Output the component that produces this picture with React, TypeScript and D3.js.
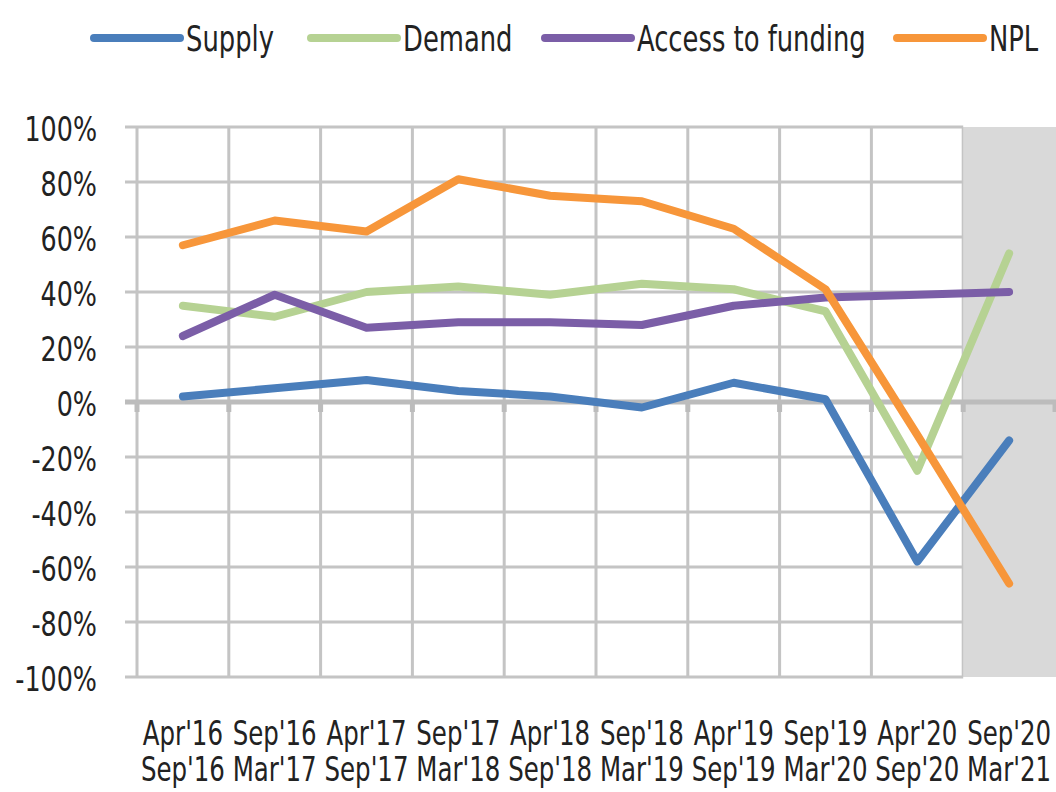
import * as React from 'react';
import { scaleBand, scaleLinear, line, range } from 'd3';

const periods = [
    ["Apr'16", "Sep'16"],
    ["Sep'16", "Mar'17"],
    ["Apr'17", "Sep'17"],
    ["Sep'17", "Mar'18"],
    ["Apr'18", "Sep'18"],
    ["Sep'18", "Mar'19"],
    ["Apr'19", "Sep'19"],
    ["Sep'19", "Mar'20"],
    ["Apr'20", "Sep'20"],
    ["Sep'20", "Mar'21"],
];

const supply = [0.02, 0.05, 0.08, 0.04, 0.02, -0.02, 0.07, 0.01, -0.58, -0.14];
const demand = [0.35, 0.31, 0.40, 0.42, 0.39, 0.43, 0.41, 0.33, -0.25, 0.54];
const access = [0.24, 0.39, 0.27, 0.29, 0.29, 0.28, 0.35, 0.38, 0.39, 0.40];
const npl = [0.57, 0.66, 0.62, 0.81, 0.75, 0.73, 0.63, 0.41, -0.12, -0.66];

const yTicks = [1, 0.8, 0.6, 0.4, 0.2, 0, -0.2, -0.4, -0.6, -0.8, -1];

const series = [
    { name: "Supply", values: supply, color: "#4a7ebb" },
    { name: "Demand", values: demand, color: "#b6d293" },
    { name: "Access to funding", values: access, color: "#7b5ea7" },
    { name: "NPL", values: npl, color: "#f7963a" },
];

// legend layout (swatch start x for each entry)
const legendX = [94, 311, 545, 897];

const FONT = "'DejaVu Sans', sans-serif";
const W = 1056, H = 792;
const margin = { left: 137, right: 1055, top: 127, bottom: 677 };

const txt = { fontFamily: FONT, fontStretch: 'condensed', fill: '#222' } as React.CSSProperties;

const App = () => {
    const x = scaleBand<number>()
        .domain(range(periods.length))
        .range([margin.left, margin.right])
        .padding(0);
    const y = scaleLinear().domain([-1, 1]).range([margin.bottom, margin.top]);
    const cx = (i: number) => (x(i) || 0) + x.bandwidth() / 2;
    const lineGen = line<number>().x((d, i) => cx(i)).y((d) => y(d));

    const shadeStart = x(periods.length - 1) || 0;
    const boundaries = range(periods.length + 1).map((i) => margin.left + i * x.bandwidth());

    return (
        <svg width={W} height={H} style={{ position: 'absolute', left: 0, top: 0, background: '#fff' }}>
            {/* vertical grid */}
            {boundaries.slice(0, -1).map((bx, i) => (
                <line key={'v' + i} x1={bx} x2={bx} y1={margin.top} y2={margin.bottom} stroke="#c4c4c4" strokeWidth={3} />
            ))}
            {/* horizontal grid */}
            {yTicks.filter((t) => t !== 0).map((t) => (
                <line key={'h' + t} x1={margin.left - 12} x2={shadeStart} y1={y(t)} y2={y(t)} stroke="#c4c4c4" strokeWidth={3} />
            ))}
            {/* shaded forecast period */}
            <rect x={shadeStart} y={margin.top} width={margin.right - shadeStart + 2} height={margin.bottom - margin.top} fill="#d9d9d9" />
            {/* zero axis with ticks */}
            <line x1={margin.left - 12} x2={W} y1={y(0)} y2={y(0)} stroke="#bcbcbc" strokeWidth={5} />
            {boundaries.map((bx, i) => (
                <line key={'t' + i} x1={bx} x2={bx} y1={y(0)} y2={y(0) + 10} stroke="#bcbcbc" strokeWidth={5} />
            ))}
            {/* y labels */}
            {yTicks.map((t) => (
                <g key={'y' + t} transform={`translate(97,${y(t)}) scale(0.83,1)`}>
                    <text x={0} y={0} dy="0.42em" textAnchor="end" style={{ ...txt, fontSize: 34 }}>
                        {`${Math.round(t * 100)}%`}
                    </text>
                </g>
            ))}
            {/* x labels */}
            {periods.map((p, i) => (
                <g key={'x' + i} transform={`translate(${cx(i)},0) scale(0.8,1)`}>
                    <text textAnchor="middle" style={{ ...txt, fontSize: 34 }}>
                        <tspan x={0} y={745}>{p[0]}</tspan>
                        <tspan x={0} y={781}>{p[1]}</tspan>
                    </text>
                </g>
            ))}
            {/* series */}
            {series.map((s) => (
                <path key={s.name} d={lineGen(s.values) || ''} fill="none" stroke={s.color} strokeWidth={8} strokeLinejoin="round" strokeLinecap="round" />
            ))}
            {/* legend */}
            {series.map((s, i) => (
                <g key={'l' + s.name} transform={`translate(${legendX[i]},38)`}>
                    <line x1={0} x2={86} y1={0} y2={0} stroke={s.color} strokeWidth={8} strokeLinecap="round" />
                    <g transform="translate(92,0) scale(0.82,1)">
                        <text x={0} y={0} dy="0.38em" style={{ ...txt, fontSize: 35 }}>{s.name}</text>
                    </g>
                </g>
            ))}
        </svg>
    );
};

export default App;
